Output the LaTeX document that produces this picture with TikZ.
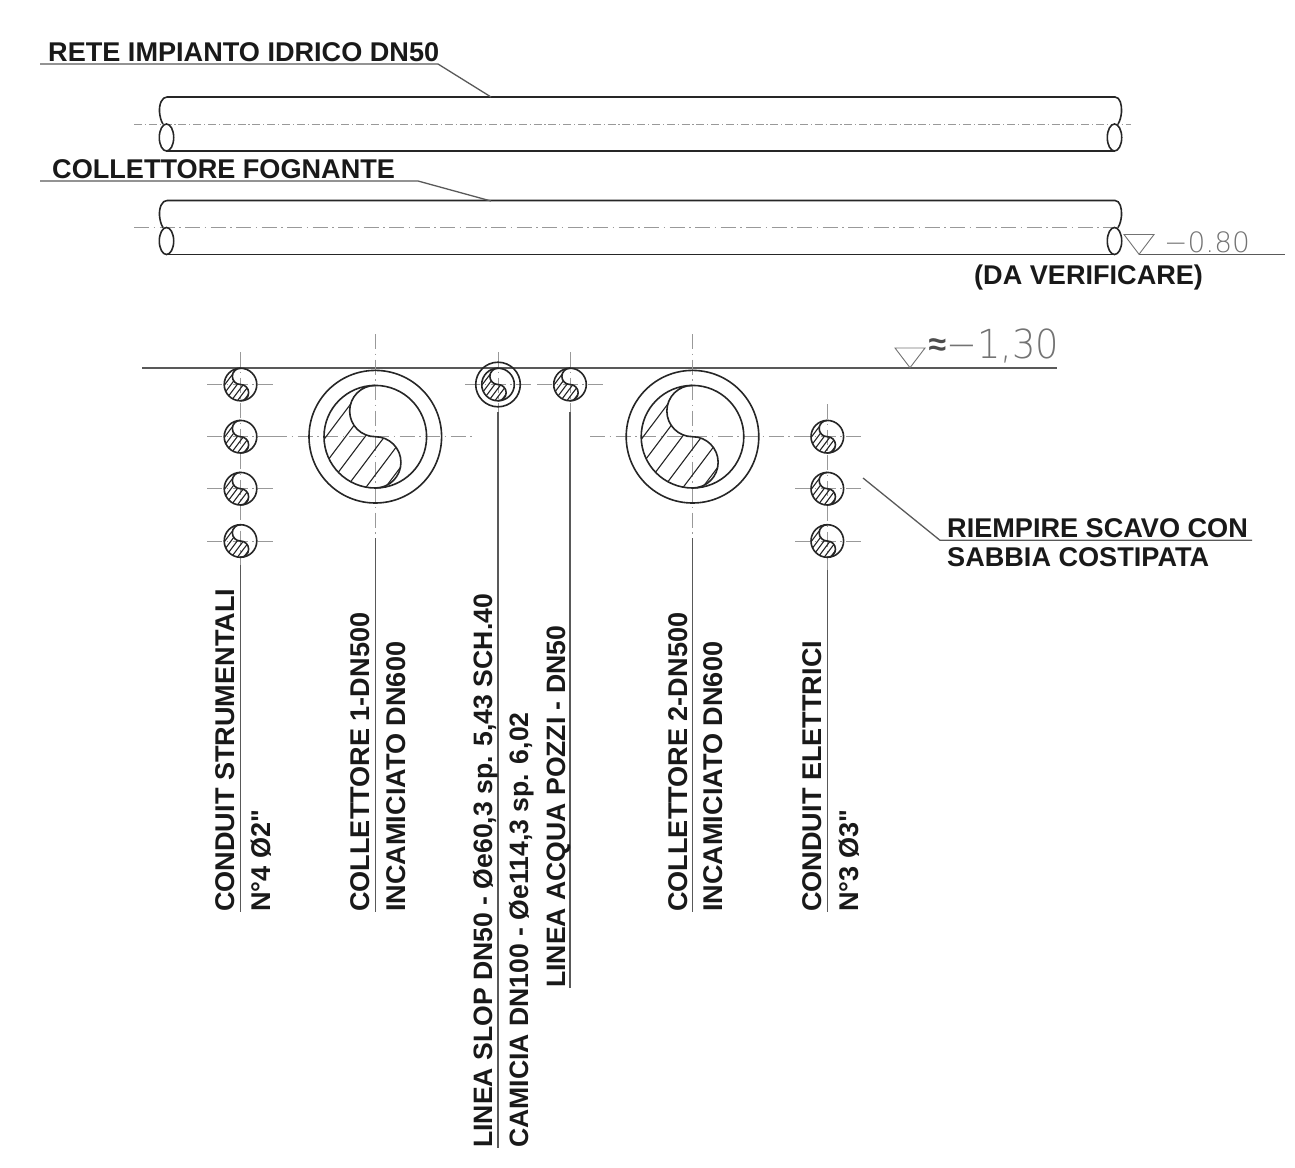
\documentclass[tikz,border=0pt]{standalone}
\usepackage{fontspec}
\setmainfont{Liberation Sans}
\newfontfamily\labelfont{Liberation Sans}
\newfontfamily\thinfont{DejaVu Sans ExtraLight}
\usepackage{tikz}
\usetikzlibrary{positioning}
\definecolor{axisgray}{gray}{0.6}
\definecolor{levelgray}{gray}{0.45}
\tikzset{
    edge/.style={line width=1.6pt,black!85},
    axis/.style={line width=1pt,axisgray,dash pattern=on 15pt off 4.5pt on 1.5pt off 4.5pt},
    pipeaxis/.style={axis,dash pattern=on 8pt off 2.8pt on 1.2pt off 2.8pt},
    lead/.style={line width=1.3pt,black!65},
    label/.style={font=\labelfont\bfseries\fontsize{27.1}{27.1}\selectfont,inner sep=0pt,anchor=base west,black!90},
    vlabel/.style={label,rotate=90},
    vlabelsmall/.style={vlabel,font=\labelfont\bfseries\fontsize{26.6}{26.6}\selectfont},
    level/.style={inner sep=0pt,anchor=base west,levelgray},
    pics/section/.style={code={
        \draw[edge] (0,0) circle[radius=#1];
        \begin{scope}
            \clip (0,-#1) arc[start angle=-90,end angle=-270,radius=#1/2]
                  arc[start angle=-90,end angle=90,radius=#1/2]
                  arc[start angle=90,end angle=270,radius=#1];
            \foreach \k in {-4,...,4}
                \draw[line width=1.1pt,black!85] ({(\k*0.38-0.2-1)*#1},{#1*1.33}) -- ({(\k*0.38-0.2+1)*#1},{-#1*1.33});
        \end{scope}
        \draw[edge] (0,-#1) arc[start angle=-90,end angle=-270,radius=#1/2]
                    arc[start angle=-90,end angle=90,radius=#1/2];
    }},
    pics/pipe/.style={code={
        \draw[edge] (167,0) -- (1115,0) .. controls (1120,0) and (1122,8) .. (1121.5,15) .. controls (1121,20) and (1120,24) .. (1118,27);
        \draw[edge] (167,54) -- (1115,54);
        \draw[edge] (167,0) .. controls (162,0) and (159,7) .. (159.5,15) .. controls (160,20) and (161,24) .. (163,27);
        \draw[edge] (166.5,40.5) ellipse[x radius=7.2,y radius=13.5];
        \draw[edge] (1114.5,40.5) ellipse[x radius=7.2,y radius=13.5];
    }},
}

\begin{document}
\begin{tikzpicture}[x=1pt,y=-1pt]
    \useasboundingbox (0,0) rectangle (1295,1167);

    % tubazioni superiori
    \draw[pipeaxis] (134,124) -- (1131,124);
    \draw[axis] (134,227.5) -- (1122,227.5);
    \pic at (0,97) {pipe};
    \pic at (0,200.5) {pipe};

    \node[label] (rete) at (48,61) {RETE IMPIANTO IDRICO DN50};
    \node[label] (fogna) at (52,178) {COLLETTORE FOGNANTE};
    \node[label] (verifica) at (974,284) {(DA VERIFICARE)};
    \coordinate (rete0) at (40,64);
    \coordinate (rete1) at (438,64);
    \coordinate (rete2) at (491,97);
    \coordinate (fogna0) at (40,181);
    \coordinate (fogna1) at (418,181);
    \coordinate (fogna2) at (491,201);
    \draw[lead] (rete0) -- (rete1) -- (rete2);
    \draw[lead] (fogna0) -- (fogna1) -- (fogna2);

    % quota -0.80
    \coordinate (liv0) at (1139,254.3);
    \coordinate (liv1) at (1285,254.3);
    \draw[lead] (liv0) -- (liv1);
    \draw[line width=0.9pt,levelgray] (1124,234.5) -- (1154,234.5) -- (liv0) -- cycle;
    \node[level,font=\thinfont\fontsize{28}{28}\selectfont] (q080) at (1164,252.5) {−0.80};

    % piano di posa -1,30
    \coordinate (suolo0) at (142,368);
    \coordinate (suolo1) at (1057,368);
    \coordinate (liv2) at (910,367.7);
    \draw[lead,line width=1.5pt] (suolo0) -- (suolo1);
    \draw[line width=0.9pt,levelgray] (895,348) -- (925,348) -- (liv2) -- cycle;
    \node[inner sep=0pt,font=\labelfont\bfseries\fontsize{32}{32}\selectfont,black!70] (circa) at (937.5,347) {≈};
    \node[level,font=\thinfont\fontsize{40}{40}\selectfont,xscale=0.92] (q130) at (946,358) {−1,30};

    % assi
    \foreach \x/\ya/\yb in {240.5/352/565,375.3/334/536,498/352/412,570/352/412,692.5/334/536,827.3/404/570}
        \draw[axis] (\x,\ya) -- (\x,\yb);
    \foreach \y in {384.5,436.7,488.7,541}
        \draw[axis] (207,\y) -- (274,\y);
    \foreach \y in {436.7,488.7,541}
        \draw[axis] (795,\y) -- (861,\y);
    \draw[axis] (272,436.7) -- (476,436.7);
    \draw[axis] (590,436.7) -- (795,436.7);
    \draw[axis] (465,384.5) -- (533,384.5);
    \draw[axis] (537,384.5) -- (603,384.5);

    % sezioni
    \foreach \y in {384.5,436.7,488.7,541}
        \pic at (240.5,\y) {section=16.3};
    \foreach \y in {436.7,488.7,541}
        \pic at (827.3,\y) {section=16.3};
    \pic at (498,384.5) {section=16.3};
    \pic at (570,384.5) {section=16.3};
    \pic at (375.3,436.7) {section=51.3};
    \pic at (692.5,436.7) {section=51.3};
    \draw[edge] (498,384.5) circle[radius=22.3];
    \draw[edge] (375.3,436.7) circle[radius=66.3];
    \draw[edge] (692.5,436.7) circle[radius=66.3];

    % richiami
    \foreach \x/\ya/\yb/\n in {240.5/565/912/a,375.3/538/912/b,498/412/1148/c,570/412/988/d,692.5/538/912/e,827.3/570/912/f}{
        \coordinate (t\n) at (\x,\ya);
        \coordinate (b\n) at (\x,\yb);
        \draw[lead] (t\n) -- (b\n);
    }

    \node[vlabel] (strum) at (234,912) {CONDUIT STRUMENTALI};
    \node[vlabel] (strumn) at (270,912) {N°4 Ø2"};
    \node[vlabel] (coll1) at (369,912) {COLLETTORE 1-DN500};
    \node[vlabel] (inc1) at (405,912) {INCAMICIATO DN600};
    \node[vlabelsmall] (slop) at (492,1148) {LINEA SLOP DN50 - Øe60,3 sp. 5,43 SCH.40};
    \node[vlabelsmall] (cam) at (528,1148) {CAMICIA DN100 - Øe114,3 sp. 6,02};
    \node[vlabelsmall] (acqua) at (565,988) {LINEA ACQUA POZZI - DN50};
    \node[vlabel] (coll2) at (687,912) {COLLETTORE 2-DN500};
    \node[vlabel] (inc2) at (722,912) {INCAMICIATO DN600};
    \node[vlabel] (elet) at (821,912) {CONDUIT ELETTRICI};
    \node[vlabel] (eletn) at (858,912) {N°3 Ø3"};

    % sabbia
    \node[label] (sabbia1) at (947,537) {RIEMPIRE SCAVO CON};
    \node[label] (sabbia2) at (947,566.5) {SABBIA COSTIPATA};
    \coordinate (sab0) at (863,478);
    \coordinate (sab1) at (940,540.3);
    \coordinate (sab2) at (1252,540.3);
    \draw[lead] (sab0) -- (sab1) -- (sab2);
\end{tikzpicture}
\end{document}
